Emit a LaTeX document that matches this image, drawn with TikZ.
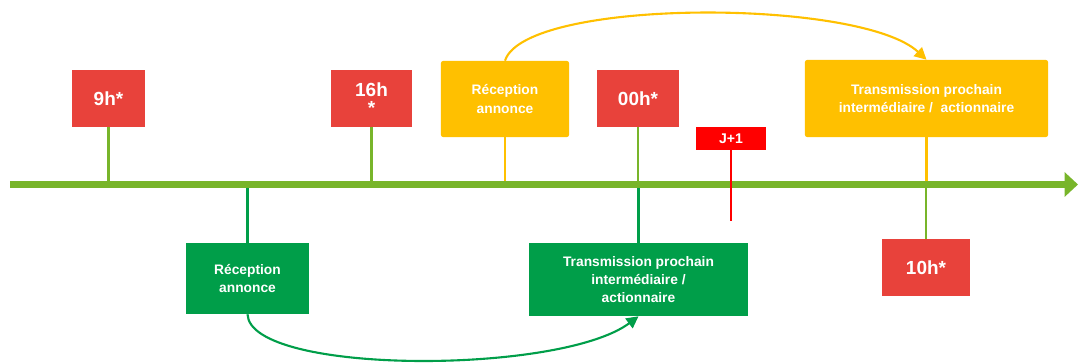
\documentclass[tikz,border=0pt]{standalone}
\usepackage{fontspec}
\setmainfont{Liberation Sans}
\usepackage{xcolor}
\usetikzlibrary{arrows.meta, positioning}
\definecolor{heurerouge}{HTML}{E8423B}
\definecolor{jourrouge}{HTML}{FF0000}
\definecolor{ambre}{HTML}{FFC000}
\definecolor{vertfonce}{HTML}{009E49}
\definecolor{vertaxe}{HTML}{78B52A}
\tikzset{
    heure/.style={rectangle, fill=heurerouge, text=white, align=center, minimum height=1.425cm, inner sep=1pt, font=\bfseries\fontsize{13.5}{13}\selectfont},
    etapejaune/.style={rectangle, rounded corners=1.5pt, fill=ambre, text=white, align=center, inner sep=1pt, font=\bfseries\fontsize{9.8}{13}\selectfont},
    etapeverte/.style={rectangle, fill=vertfonce, text=white, align=center, inner sep=1pt, font=\bfseries\fontsize{9.8}{13}\selectfont},
    tige/.style={line width=1.8pt},
    fleche/.style={-{Triangle[length=8.5pt, width=8.5pt]}, line width=1.5pt}
}
\begin{document}
\begin{tikzpicture}[x=0.025cm, y=-0.025cm,
  jour/.style={rectangle, fill=jourrouge, text=white, minimum width=1.75cm, minimum height=0.575cm, inner sep=0pt, font=\bfseries\fontsize{10}{10}\selectfont},
  axe/.style={-{Triangle[length=9.5pt, width=17pt]}, line width=5.3pt, draw=vertaxe}]
  \useasboundingbox (0,0) rectangle (1078,362);
  \coordinate (axL) at (10,184.5);
  \coordinate (axR) at (1078,184.5);
  \node[heure, minimum width=1.825cm] (h9) at (108.5,98.5) {9h*};
  \node[heure, minimum width=2.025cm] (h16) at (371.5,98.5) {16h\\*};
  \node[etapejaune, minimum width=3.2cm, minimum height=1.9cm] (recj) at (505,99) {Réception\\annonce};
  \node[heure, minimum width=2.05cm] (h00) at (638,98.5) {00h*};
  \node[jour] (j1) at (731,138.5) {J+1};
  \coordinate (j1bas) at (731,221);
  \node[etapejaune, minimum width=6.075cm, minimum height=1.925cm] (trj) at (926.5,98.5) {Transmission prochain\\intermédiaire /\ \ actionnaire};
  \node[heure, minimum width=2.2cm] (h10) at (926,267.5) {10h*};
  \node[etapeverte, minimum width=3.075cm, minimum height=1.775cm] (recv) at (247.5,278.5) {Réception\\annonce};
  \node[etapeverte, minimum width=5.475cm, minimum height=1.825cm] (trv) at (638.5,279.5) {Transmission prochain\\intermédiaire /\\actionnaire};
  \draw[tige, vertaxe] (h9.south) -- (h9.south |- axL);
  \draw[tige, vertaxe] (h16.south) -- (h16.south |- axL);
  \draw[tige, ambre] (recj.south) -- (recj.south |- axL);
  \draw[tige, vertaxe] (h00.south) -- (h00.south |- axL);
  \draw[tige, vertfonce] (trv.north) -- (trv.north |- axL);
  \draw[tige, vertfonce] (recv.north) -- (recv.north |- axL);
  \draw[tige, ambre] (trj.south) -- (trj.south |- axL);
  \draw[tige, vertaxe] (h10.north) -- (h10.north |- axL);
  \draw[axe] (axL) -- (axR);
  \draw[tige, jourrouge] (j1.south) -- (j1bas);
  \draw[fleche, ambre] (recj.north) .. controls (525,-2) and (860,-2) .. (trj.north);
  \draw[fleche, vertfonce] (recv.south) .. controls (250,375) and (560,375) .. (trv.south);
\end{tikzpicture}
\end{document}
